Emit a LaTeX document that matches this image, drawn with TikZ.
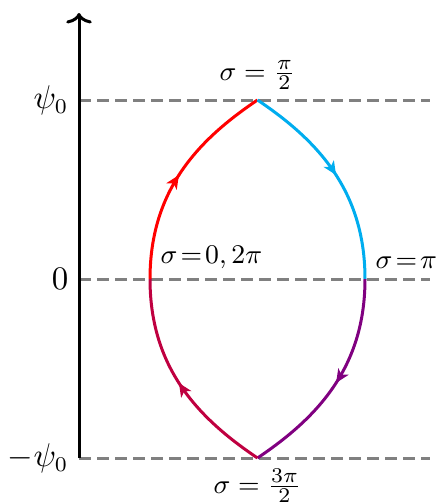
\documentclass[tikz,border=0pt]{standalone}
\usetikzlibrary{arrows.meta,decorations.markings}
\begin{document}
\begin{tikzpicture}[x=0.33333pt,y=-0.33333pt,
  guide/.style={draw=gray,line width=1pt,dash pattern=on 4pt off 2pt},
  axisline/.style={line width=1pt,-{To[length=3.5pt,width=8.5pt]}},
  arcline/.style={line width=1pt,postaction={decorate},
    decoration={markings,mark=at position 0.5 with {\arrow{Stealth[length=4.5pt,width=4pt,inset=1.2pt]}}}},
  slabel/.style={font=\fontsize{9.5}{11}\selectfont},
  ylabel/.style={left,font=\fontsize{10.5}{12}\selectfont}]
\useasboundingbox (0,0) rectangle (440,504);
% coordinates
\coordinate (axb) at (79,458);
\coordinate (axt) at (79,13);
\coordinate (gt0) at (79,100);
\coordinate (gt1) at (430,100);
\coordinate (gm0) at (79,279);
\coordinate (gm1) at (430,279);
\coordinate (gb0) at (79,458);
\coordinate (gb1) at (430,458);
\coordinate (top) at (257.5,100);
\coordinate (bot) at (257.5,458);
\coordinate (lft) at (150,279);
\coordinate (rgt) at (365,279);
% guides
\draw[guide] (gt0) -- (gt1);
\draw[guide] (gm0) -- (gm1);
\draw[guide] (gb0) -- (gb1);
% axis
\draw[axisline] (axb) -- (axt);
% curve
\draw[arcline,red] (lft) .. controls (150,189) and (199.5,139.1) .. (top);
\draw[arcline,cyan] (top) .. controls (315.5,139.1) and (365,189) .. (rgt);
\draw[arcline,violet] (rgt) .. controls (365,369) and (315.5,418.9) .. (bot);
\draw[arcline,purple] (bot) .. controls (199.5,418.9) and (150,369) .. (lft);
% labels
\node[ylabel] (lpsi) at (gt0) {$\psi_0$};
\node[ylabel] (lzero) at (gm0) {$0$};
\node[ylabel] (lmpsi) at (gb0) {$-\psi_0$};
\node[slabel,above] (ltop) at (top) {$\sigma=\frac{\pi}{2}$};
\node[slabel,below] (lbot) at (bot) {$\sigma=\frac{3\pi}{2}$};
\node[slabel,above right] (llft) at (lft) {$\sigma\!=\!0,2\pi$};
\node[slabel,above right] (lrgt) at (rgt) {$\sigma\!=\!\pi$};
\end{tikzpicture}
\end{document}
